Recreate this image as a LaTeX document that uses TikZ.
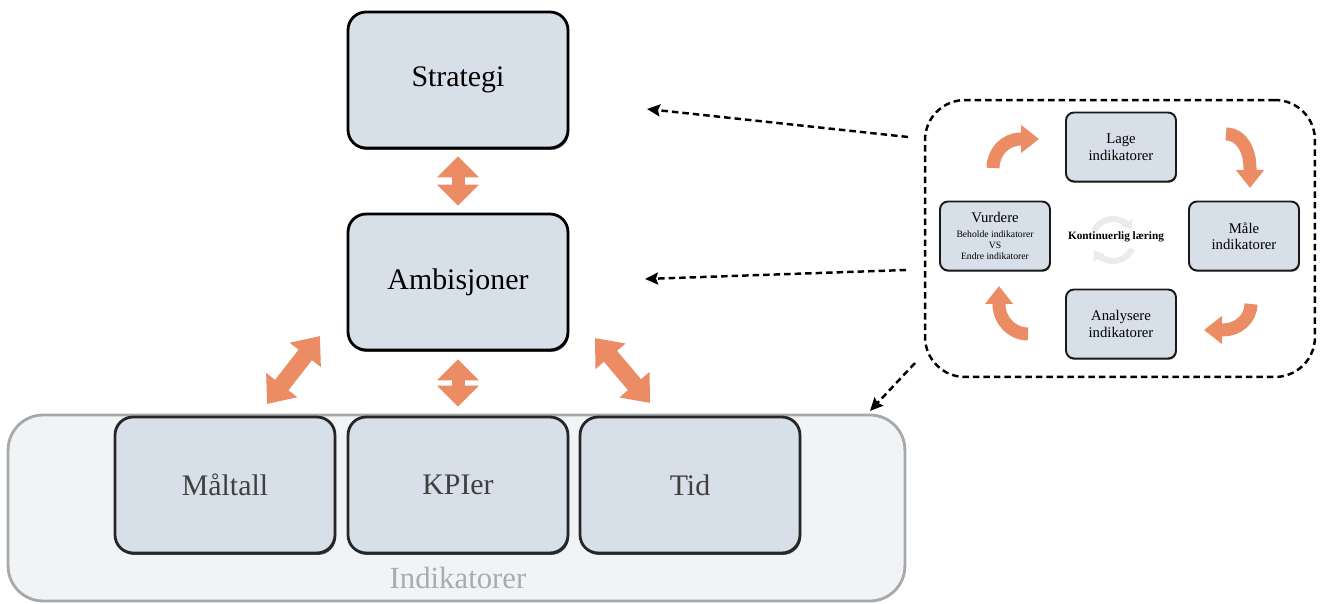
\documentclass[tikz,border=0pt]{standalone}
\usepackage{fontspec}
\setmainfont{Liberation Serif}
\usetikzlibrary{arrows.meta,shadows}

\definecolor{boitefond}{HTML}{D7DFE8}
\definecolor{saumon}{HTML}{EB8C65}
\definecolor{cadrefond}{HTML}{F1F4F7}
\definecolor{cadrebord}{HTML}{A8A8A8}

\begin{document}
\begin{tikzpicture}[x=0.02cm, y=-0.02cm,
    boite/.style={draw=black, line width=1.6pt, fill=boitefond, rounded corners=0.36cm,
        minimum width=4.4cm, minimum height=2.72cm, font=\fontsize{17}{20}\selectfont,
        drop shadow={shadow xshift=0.6pt, shadow yshift=-1.1pt, opacity=0.7, fill=black}},
    boitegrise/.style={boite, draw=black!85, text=black!75},
    petite/.style={draw=black!90, line width=1.1pt, fill=boitefond, rounded corners=0.16cm,
        minimum width=2.2cm, minimum height=1.38cm, align=center,
        font=\fontsize{8.4}{9.4}\selectfont,
        drop shadow={shadow xshift=0.4pt, shadow yshift=-0.7pt, opacity=0.7, fill=black}},
    doublefleche/.style={draw=saumon, line width=0.26cm,
        {Triangle[width=0.82cm,length=0.42cm]}-{Triangle[width=0.82cm,length=0.42cm]}},
    diagfleche/.style={draw=saumon, line width=0.34cm,
        {Triangle[width=0.76cm,length=0.48cm]}-{Triangle[width=0.76cm,length=0.48cm]}},
    tournant/.style={draw=saumon, line width=0.26cm, -{Triangle[width=0.54cm,length=0.36cm]}},
    pointille/.style={draw=black, line width=1.4pt, dash pattern=on 0.13cm off 0.08cm},
    fleche pointillee/.style={pointille, -{Stealth[length=0.26cm,width=0.24cm,inset=0.04cm]}},
    icone/.style={draw=black!8, line width=0.12cm, -{Triangle[width=0.26cm,length=0.17cm]}}
]
    \useasboundingbox (0,0) rectangle (1326,604);

    % Cadre des indicateurs
    \node[draw=cadrebord, line width=1.6pt, fill=cadrefond, rounded corners=0.7cm,
        minimum width=17.94cm, minimum height=3.72cm] (cadre) at (456.5,508) {};
    \node[text=black!33, font=\fontsize{17.5}{20}\selectfont] (indik) at (458,578) {Indikatorer};

    % Boites principales
    \node[boite] (strategi) at (458,80) {Strategi};
    \node[boite] (ambisjoner) at (458,282) {Ambisjoner};
    \node[boitegrise] (maltall) at (225,485) {Måltall};
    \node[boitegrise] (kpier) at (458,485) {KPIer};
    \node[boitegrise] (tid) at (690,485) {Tid};

    % Fleches doubles
    \draw[doublefleche, shorten <=0.14cm, shorten >=0.14cm] (strategi) -- (ambisjoner);
    \draw[doublefleche, shorten <=0.16cm, shorten >=0.18cm] (ambisjoner) -- (kpier);
    \coordinate (g1) at (320,336);
    \coordinate (g2) at (267,404);
    \coordinate (d1) at (595,338);
    \coordinate (d2) at (650,403);
    \draw[diagfleche] (g1) -- (g2);
    \draw[diagfleche] (d1) -- (d2);

    % Boucle d'apprentissage
    \node[pointille, rounded corners=0.8cm, minimum width=7.8cm, minimum height=5.54cm] (boucle) at (1120,238.5) {};
    \node[petite] (lage) at (1121,147) {Lage\\indikatorer};
    \node[petite] (male) at (1244,236) {Måle\\indikatorer};
    \node[petite] (analysere) at (1121,324) {Analysere\\indikatorer};
    \node[petite] (vurdere) at (995,236) {Vurdere\\[-1pt]{\fontsize{5.5}{6.4}\selectfont Beholde indikatorer}\\[-3pt]{\fontsize{5.5}{6.4}\selectfont VS}\\[-3pt]{\fontsize{5.5}{6.4}\selectfont Endre indikatorer}};

    % Icone au centre
    \draw[icone] (1113,240) ++(25:21) arc[start angle=25, end angle=150, radius=21];
    \draw[icone] (1113,240) ++(205:21) arc[start angle=205, end angle=330, radius=21];
    \node[font=\bfseries\fontsize{6.4}{7}\selectfont] (laering) at (1116,237) {Kontinuerlig læring};

    % Fleches tournantes
    \draw[tournant] (993,168) to[out=90, in=180] (1021,139) -- (1039,139);
    \draw[tournant] (1226,134) to[out=0, in=90] (1250,168) -- (1250,188);
    \draw[tournant] (1251,304) to[out=-90, in=0] (1223,330) -- (1204,330);
    \draw[tournant] (1028,334) to[out=180, in=-90] (999,304) -- (999,286);

    % Liens pointilles
    \coordinate (p1) at (908,137);
    \coordinate (p2) at (906,270);
    \coordinate (p3) at (915,363);
    \coordinate (c1) at (647,109);
    \coordinate (c2) at (645,279);
    \coordinate (c3) at (870,411);
    \draw[fleche pointillee] (p1) -- (c1);
    \draw[fleche pointillee] (p2) -- (c2);
    \draw[fleche pointillee] (p3) -- (c3);

\end{tikzpicture}
\end{document}
